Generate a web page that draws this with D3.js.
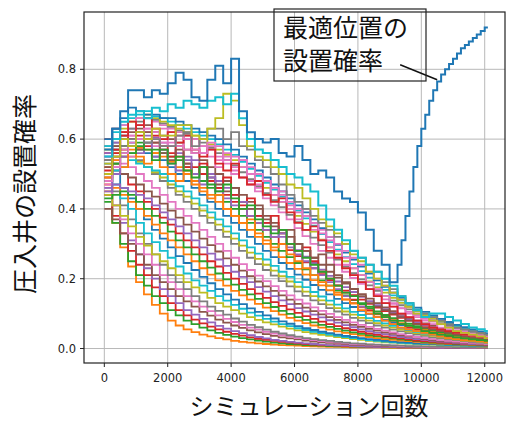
<!DOCTYPE html>
<html><head><meta charset="utf-8">
<script src="https://cdn.jsdelivr.net/npm/d3@7"></script>
<style>body{margin:0;background:#fff}svg{display:block}</style>
</head><body>
<svg id="c" width="509" height="423"></svg>
<script>
// ---------- data ----------
const stepX = [0,250,500,750,1000,1250,1500,1750,2000,2250,2500,2750,3000,3250,3500,3750,4000,4250,4500,4750,5000,5250,5500,5750,6000,6250,6500,6750,7000,7250,7500,7750,8000,8250,8500,8750,9000,9250,9500,9750,10000,10250,10500,10750,11000,11250,11500,11750,12000];
const optimalX = [0,250,500,750,1000,1250,1500,1750,2000,2250,2500,2750,3000,3250,3500,3750,4000,4250,4500,4750,5000,5250,5500,5750,6000,6250,6500,6750,7000,7250,7500,7750,8000,8250,8500,8750,9000,
  9125,9250,9375,9500,9625,9750,9875,10000,10125,10250,10375,10500,10625,10750,10875,11000,11125,11250,11375,11500,11625,11750,11875,12000];
const optimal = [0.57,0.63,0.68,0.74,0.74,0.72,0.74,0.73,0.76,0.79,0.77,0.72,0.71,0.77,0.81,0.76,0.83,0.68,0.62,0.60,0.59,0.60,0.56,0.55,0.58,0.54,0.50,0.51,0.49,0.45,0.43,0.42,0.39,0.34,0.28,0.24,0.19,
  0.19,0.24,0.31,0.38,0.45,0.52,0.58,0.63,0.67,0.71,0.74,0.765,0.785,0.80,0.815,0.83,0.845,0.86,0.87,0.88,0.89,0.90,0.91,0.92];
const cyanLine  = [0.55,0.60,0.65,0.67,0.68,0.66,0.69,0.68, 0.70,0.69,0.71,0.70,0.69,0.71,0.72,0.70, 0.73,0.66,0.60,0.57,0.56,0.54,0.52,0.50, 0.49,0.47,0.45,0.41,0.37,0.34,0.31,0.28, 0.26,0.24,0.22,0.20,0.18,0.15,0.13,0.11, 0.09,0.10,0.10,0.09,0.08,0.07,0.06,0.055, 0.05];
const oliveLine = [0.50,0.55,0.60,0.58,0.62,0.60,0.63,0.61, 0.61,0.64,0.64,0.61,0.60,0.63,0.66,0.73, 0.71,0.64,0.58,0.55,0.54,0.52,0.50,0.47, 0.46,0.43,0.40,0.37,0.35,0.33,0.30,0.27, 0.25,0.22,0.20,0.18,0.16,0.14,0.12,0.10, 0.09,0.08,0.07,0.06,0.05,0.045,0.04,0.035, 0.03];
const greyLine  = [0.50,0.55,0.58,0.60,0.62,0.59,0.60,0.58, 0.58,0.61,0.62,0.58,0.60,0.63,0.63,0.60, 0.62,0.58,0.57,0.54,0.52,0.50,0.47,0.44, 0.42,0.40,0.38,0.36,0.34,0.32,0.30,0.28, 0.26,0.24,0.22,0.19,0.17,0.15,0.13,0.11, 0.10,0.09,0.08,0.07,0.06,0.055,0.05,0.045, 0.04];
const pinkLine  = [0.48,0.52,0.56,0.59,0.60,0.63,0.62,0.59, 0.58,0.61,0.60,0.57,0.56,0.59,0.58,0.55, 0.55,0.54,0.52,0.50,0.48,0.46,0.44,0.42, 0.40,0.38,0.36,0.34,0.32,0.30,0.28,0.26, 0.24,0.22,0.20,0.18,0.16,0.14,0.12,0.10, 0.09,0.08,0.07,0.06,0.05,0.045,0.04,0.035, 0.03];
const jaggedLines = [
 [0.50,0.56,0.62,0.60,0.64,0.58,0.61,0.57, 0.55,0.58,0.52,0.50,0.53,0.48,0.46,0.49, 0.44,0.41,0.43,0.38,0.36,0.38,0.33,0.30, 0.28,0.29,0.25,0.22,0.20,0.18,0.16,0.14, 0.12,0.11,0.10,0.09,0.08,0.07,0.06,0.055, 0.05,0.045,0.04,0.035,0.03,0.028,0.026,0.024, 0.022],
 [0.47,0.52,0.57,0.55,0.60,0.62,0.58,0.60, 0.62,0.58,0.60,0.56,0.58,0.55,0.52,0.54, 0.50,0.52,0.48,0.46,0.44,0.46,0.42,0.40, 0.37,0.38,0.34,0.31,0.29,0.26,0.24,0.21, 0.19,0.17,0.15,0.13,0.12,0.10,0.09,0.08, 0.07,0.06,0.055,0.05,0.045,0.04,0.035,0.032, 0.03],
 [0.52,0.58,0.55,0.60,0.57,0.62,0.59,0.56, 0.54,0.57,0.53,0.50,0.52,0.49,0.47,0.45, 0.46,0.42,0.40,0.41,0.37,0.35,0.33,0.34, 0.30,0.28,0.26,0.27,0.24,0.21,0.19,0.17, 0.15,0.13,0.12,0.11,0.10,0.09,0.08,0.07, 0.06,0.055,0.05,0.045,0.04,0.035,0.03,0.028, 0.025],
 [0.46,0.50,0.55,0.58,0.56,0.59,0.55,0.57, 0.53,0.51,0.54,0.50,0.47,0.49,0.45,0.43, 0.41,0.42,0.38,0.36,0.34,0.32,0.33,0.29, 0.27,0.25,0.23,0.21,0.19,0.17,0.15,0.13, 0.12,0.10,0.09,0.08,0.07,0.06,0.055,0.05, 0.045,0.04,0.035,0.03,0.028,0.026,0.024,0.022, 0.02],
 [0.49,0.54,0.52,0.57,0.55,0.53,0.56,0.52, 0.50,0.48,0.51,0.47,0.45,0.43,0.44,0.40, 0.38,0.36,0.37,0.33,0.31,0.29,0.30,0.27, 0.25,0.23,0.21,0.19,0.18,0.16,0.14,0.13, 0.11,0.10,0.09,0.08,0.07,0.06,0.055,0.05, 0.045,0.04,0.035,0.03,0.027,0.024,0.022,0.02, 0.018],
 [0.55,0.60,0.64,0.61,0.66,0.63,0.60,0.63, 0.59,0.61,0.57,0.60,0.56,0.58,0.54,0.56, 0.52,0.54,0.50,0.47,0.48,0.44,0.45,0.41, 0.39,0.40,0.36,0.33,0.31,0.28,0.26,0.23, 0.21,0.19,0.17,0.15,0.13,0.115,0.10,0.09, 0.08,0.07,0.06,0.055,0.05,0.045,0.04,0.037, 0.034],
 [0.48,0.53,0.58,0.56,0.59,0.57,0.54,0.57, 0.53,0.55,0.51,0.49,0.52,0.47,0.45,0.47, 0.43,0.40,0.41,0.37,0.35,0.33,0.34,0.30, 0.28,0.26,0.24,0.22,0.20,0.18,0.16,0.15, 0.13,0.12,0.10,0.09,0.08,0.07,0.065,0.06, 0.05,0.045,0.04,0.036,0.032,0.029,0.026,0.024, 0.022],
 [0.51,0.57,0.61,0.65,0.62,0.66,0.63,0.60, 0.62,0.59,0.61,0.57,0.55,0.57,0.53,0.51, 0.53,0.49,0.47,0.48,0.44,0.42,0.43,0.39, 0.36,0.34,0.35,0.31,0.28,0.26,0.23,0.21, 0.19,0.17,0.15,0.13,0.12,0.10,0.09,0.08, 0.07,0.06,0.055,0.05,0.045,0.04,0.036,0.033, 0.03]
];
const fanLines = [
 [0.45,0.36,0.29,0.235,0.19,0.155,0.125,0.10, 0.08,0.066,0.055,0.047,0.04,0.035,0.03,0.026, 0.022,0.019,0.017,0.015,0.013,0.011,0.01,0.009, 0.008,0.007,0.006,0.0055,0.005,0.0045,0.004,0.0035, 0.003,0.003,0.003,0.0025,0.002,0.002,0.002,0.002, 0.002,0.002,0.002,0.0015,0.001,0.001,0.001,0.001, 0.001],
 [0.42,0.36,0.30,0.25,0.21,0.18,0.15,0.13, 0.11,0.095,0.08,0.07,0.06,0.052,0.045,0.039, 0.034,0.03,0.026,0.023,0.02,0.017,0.015,0.013, 0.012,0.01,0.009,0.008,0.007,0.0065,0.006,0.0055, 0.005,0.0045,0.004,0.0035,0.003,0.003,0.003,0.0025, 0.002,0.002,0.002,0.002,0.002,0.002,0.002,0.0015, 0.001],
 [0.44,0.38,0.33,0.28,0.24,0.21,0.175,0.15, 0.13,0.11,0.095,0.083,0.072,0.063,0.055,0.048, 0.042,0.037,0.032,0.028,0.025,0.022,0.019,0.017, 0.015,0.013,0.011,0.01,0.009,0.008,0.007,0.0065, 0.006,0.0055,0.005,0.0045,0.004,0.0035,0.003,0.003, 0.003,0.0025,0.002,0.002,0.002,0.002,0.002,0.002, 0.002],
 [0.48,0.41,0.36,0.31,0.27,0.23,0.20,0.17, 0.15,0.13,0.11,0.097,0.085,0.075,0.065,0.057, 0.05,0.044,0.038,0.033,0.029,0.025,0.022,0.019, 0.017,0.015,0.013,0.011,0.01,0.009,0.008,0.007, 0.006,0.0055,0.005,0.0045,0.004,0.0035,0.003,0.003, 0.003,0.0025,0.002,0.002,0.002,0.002,0.002,0.002, 0.002],
 [0.40,0.37,0.33,0.30,0.27,0.24,0.21,0.19, 0.17,0.15,0.135,0.12,0.105,0.094,0.083,0.074, 0.066,0.059,0.052,0.046,0.041,0.036,0.032,0.029, 0.026,0.023,0.02,0.018,0.016,0.014,0.013,0.011, 0.01,0.009,0.008,0.007,0.006,0.0055,0.005,0.0045, 0.004,0.004,0.004,0.0035,0.003,0.003,0.003,0.0025, 0.002],
 [0.46,0.41,0.37,0.33,0.30,0.27,0.24,0.21, 0.19,0.17,0.15,0.135,0.12,0.107,0.095,0.085, 0.076,0.068,0.06,0.054,0.048,0.043,0.038,0.034, 0.03,0.027,0.024,0.021,0.019,0.017,0.015,0.013, 0.012,0.011,0.01,0.009,0.008,0.007,0.006,0.0055, 0.005,0.0045,0.004,0.004,0.004,0.0035,0.003,0.003, 0.003],
 [0.50,0.45,0.41,0.37,0.33,0.30,0.27,0.24, 0.21,0.19,0.17,0.15,0.135,0.12,0.108,0.097, 0.086,0.077,0.068,0.061,0.054,0.048,0.043,0.038, 0.034,0.03,0.027,0.024,0.022,0.019,0.017,0.015, 0.014,0.012,0.011,0.01,0.009,0.008,0.007,0.0065, 0.006,0.0055,0.005,0.0045,0.004,0.0035,0.003,0.003, 0.003],
 [0.44,0.41,0.38,0.35,0.32,0.295,0.27,0.25, 0.23,0.21,0.19,0.175,0.16,0.145,0.13,0.12, 0.11,0.10,0.09,0.082,0.075,0.069,0.063,0.057, 0.052,0.047,0.043,0.039,0.036,0.033,0.03,0.027, 0.025,0.022,0.02,0.018,0.017,0.015,0.014,0.013, 0.012,0.011,0.01,0.009,0.008,0.0075,0.007,0.0065, 0.006],
 [0.50,0.47,0.43,0.40,0.36,0.33,0.305,0.28, 0.26,0.235,0.215,0.195,0.18,0.165,0.15,0.137, 0.125,0.114,0.103,0.094,0.085,0.077,0.07,0.064, 0.058,0.053,0.048,0.044,0.04,0.036,0.033,0.03, 0.027,0.024,0.022,0.02,0.018,0.016,0.015,0.014, 0.013,0.012,0.011,0.01,0.009,0.0085,0.008,0.0075, 0.007],
 [0.53,0.50,0.46,0.43,0.40,0.37,0.34,0.315, 0.29,0.265,0.245,0.225,0.205,0.187,0.17,0.155, 0.14,0.127,0.115,0.105,0.095,0.086,0.078,0.071, 0.064,0.058,0.053,0.048,0.044,0.04,0.036,0.033, 0.03,0.027,0.025,0.022,0.02,0.018,0.017,0.015, 0.014,0.013,0.012,0.011,0.01,0.009,0.008,0.0075, 0.007],
 [0.47,0.46,0.44,0.42,0.40,0.38,0.355,0.33, 0.31,0.29,0.27,0.25,0.23,0.212,0.195,0.18, 0.165,0.152,0.14,0.128,0.117,0.107,0.097,0.088, 0.08,0.073,0.066,0.06,0.054,0.049,0.045,0.041, 0.037,0.033,0.03,0.027,0.025,0.023,0.021,0.019, 0.017,0.015,0.014,0.013,0.012,0.011,0.01,0.009, 0.008],
 [0.43,0.44,0.45,0.44,0.42,0.40,0.38,0.36, 0.335,0.31,0.29,0.27,0.25,0.232,0.215,0.198, 0.183,0.168,0.155,0.142,0.13,0.119,0.108,0.099, 0.09,0.082,0.075,0.068,0.062,0.056,0.051,0.046, 0.042,0.038,0.035,0.032,0.029,0.026,0.024,0.021, 0.019,0.017,0.016,0.014,0.013,0.012,0.011,0.01, 0.009],
 [0.56,0.53,0.50,0.47,0.45,0.42,0.40,0.375, 0.355,0.33,0.31,0.29,0.27,0.25,0.235,0.217, 0.20,0.185,0.17,0.157,0.145,0.133,0.122,0.112, 0.102,0.093,0.085,0.077,0.07,0.064,0.058,0.053, 0.048,0.043,0.039,0.035,0.032,0.029,0.026,0.023, 0.021,0.019,0.017,0.015,0.014,0.013,0.012,0.011, 0.01],
 [0.45,0.47,0.46,0.45,0.44,0.43,0.41,0.39, 0.37,0.35,0.33,0.31,0.29,0.272,0.255,0.237, 0.22,0.205,0.19,0.176,0.163,0.15,0.138,0.127, 0.116,0.106,0.097,0.089,0.081,0.074,0.067,0.061, 0.055,0.05,0.045,0.041,0.037,0.033,0.03,0.027, 0.025,0.022,0.02,0.018,0.016,0.014,0.013,0.012, 0.011],
 [0.49,0.51,0.50,0.49,0.47,0.45,0.435,0.415, 0.395,0.375,0.355,0.335,0.315,0.296,0.278,0.258, 0.24,0.223,0.207,0.192,0.178,0.165,0.152,0.14, 0.128,0.117,0.107,0.098,0.09,0.082,0.075,0.068, 0.062,0.056,0.051,0.046,0.042,0.038,0.034,0.031, 0.028,0.025,0.022,0.02,0.018,0.016,0.015,0.013, 0.012],
 [0.52,0.55,0.53,0.52,0.50,0.48,0.46,0.44, 0.42,0.40,0.38,0.36,0.34,0.32,0.30,0.28, 0.26,0.242,0.225,0.209,0.193,0.179,0.165,0.152, 0.14,0.129,0.118,0.108,0.099,0.09,0.082,0.075, 0.068,0.062,0.056,0.051,0.046,0.041,0.037,0.033, 0.03,0.027,0.024,0.022,0.02,0.018,0.016,0.014, 0.013],
 [0.58,0.59,0.57,0.56,0.54,0.52,0.50,0.48, 0.46,0.44,0.42,0.40,0.38,0.36,0.34,0.32, 0.30,0.28,0.26,0.242,0.225,0.209,0.193,0.178, 0.164,0.151,0.138,0.127,0.116,0.106,0.097,0.088, 0.08,0.073,0.066,0.06,0.054,0.049,0.044,0.04, 0.036,0.032,0.029,0.026,0.024,0.021,0.019,0.017, 0.015],
 [0.53,0.56,0.55,0.55,0.535,0.52,0.505,0.49, 0.47,0.45,0.435,0.415,0.395,0.375,0.355,0.335, 0.315,0.295,0.275,0.257,0.24,0.223,0.207,0.192, 0.177,0.163,0.15,0.138,0.126,0.116,0.106,0.097, 0.088,0.08,0.073,0.066,0.06,0.054,0.049,0.044, 0.04,0.036,0.032,0.029,0.026,0.023,0.021,0.019, 0.017],
 [0.48,0.51,0.52,0.54,0.53,0.52,0.51,0.50, 0.48,0.465,0.45,0.43,0.41,0.39,0.37,0.35, 0.33,0.31,0.29,0.272,0.255,0.237,0.22,0.205, 0.19,0.176,0.162,0.149,0.137,0.126,0.115,0.105, 0.096,0.087,0.079,0.072,0.065,0.059,0.053,0.048, 0.043,0.039,0.035,0.031,0.028,0.025,0.023,0.02, 0.018],
 [0.55,0.57,0.58,0.59,0.57,0.56,0.55,0.54, 0.52,0.50,0.48,0.46,0.44,0.42,0.40,0.38, 0.36,0.34,0.32,0.30,0.28,0.262,0.245,0.228, 0.212,0.197,0.182,0.168,0.155,0.142,0.13,0.119, 0.108,0.099,0.09,0.082,0.074,0.067,0.06,0.054, 0.049,0.044,0.04,0.036,0.032,0.029,0.026,0.023, 0.021],
 [0.52,0.55,0.57,0.58,0.575,0.57,0.56,0.55, 0.535,0.52,0.50,0.48,0.46,0.44,0.42,0.40, 0.38,0.36,0.34,0.32,0.30,0.281,0.262,0.245, 0.228,0.212,0.196,0.181,0.167,0.154,0.141,0.129, 0.118,0.108,0.098,0.089,0.081,0.073,0.066,0.06, 0.054,0.049,0.044,0.039,0.035,0.031,0.028,0.025, 0.023],
 [0.50,0.53,0.56,0.58,0.58,0.59,0.57,0.56, 0.55,0.54,0.52,0.50,0.48,0.46,0.44,0.42, 0.40,0.38,0.36,0.34,0.32,0.30,0.28,0.262, 0.245,0.227,0.21,0.195,0.18,0.166,0.152,0.139, 0.127,0.116,0.106,0.096,0.087,0.079,0.071,0.064, 0.058,0.052,0.047,0.042,0.038,0.034,0.031,0.028, 0.025],
 [0.60,0.63,0.62,0.60,0.61,0.60,0.59,0.58, 0.56,0.55,0.53,0.52,0.50,0.48,0.46,0.44, 0.42,0.40,0.38,0.36,0.34,0.32,0.30,0.282, 0.265,0.247,0.23,0.213,0.196,0.181,0.166,0.153, 0.14,0.128,0.117,0.107,0.097,0.088,0.08,0.072, 0.065,0.059,0.053,0.048,0.043,0.039,0.035,0.031, 0.028],
 [0.56,0.59,0.61,0.63,0.62,0.61,0.605,0.59, 0.58,0.56,0.55,0.54,0.52,0.50,0.48,0.46, 0.44,0.42,0.40,0.38,0.36,0.34,0.32,0.30, 0.282,0.263,0.245,0.226,0.208,0.192,0.176,0.162, 0.148,0.136,0.124,0.113,0.102,0.093,0.084,0.076, 0.068,0.061,0.055,0.05,0.045,0.041,0.037,0.033, 0.03],
 [0.54,0.57,0.60,0.62,0.63,0.64,0.62,0.61, 0.60,0.59,0.57,0.56,0.54,0.52,0.50,0.48, 0.46,0.44,0.42,0.40,0.38,0.36,0.34,0.32, 0.30,0.28,0.26,0.24,0.22,0.203,0.186,0.171, 0.156,0.143,0.13,0.118,0.107,0.097,0.088,0.08, 0.072,0.065,0.058,0.052,0.047,0.042,0.038,0.034, 0.031],
 [0.50,0.54,0.58,0.61,0.64,0.66,0.65,0.64, 0.63,0.62,0.61,0.60,0.58,0.57,0.55,0.53, 0.51,0.49,0.47,0.45,0.43,0.41,0.39,0.37, 0.345,0.322,0.30,0.28,0.26,0.24,0.22,0.202, 0.185,0.17,0.155,0.141,0.128,0.116,0.105,0.095, 0.085,0.077,0.069,0.062,0.056,0.05,0.045,0.04, 0.036],
 [0.54,0.58,0.61,0.63,0.65,0.66,0.655,0.645, 0.635,0.625,0.615,0.60,0.59,0.575,0.56,0.54, 0.525,0.505,0.485,0.465,0.445,0.425,0.405,0.383, 0.362,0.34,0.318,0.296,0.275,0.255,0.235,0.216, 0.198,0.181,0.165,0.15,0.137,0.124,0.112,0.10, 0.09,0.081,0.073,0.066,0.06,0.054,0.048,0.043, 0.038],
 [0.57,0.60,0.63,0.65,0.66,0.67,0.66,0.65, 0.64,0.63,0.62,0.61,0.60,0.585,0.57,0.555, 0.54,0.52,0.50,0.48,0.46,0.44,0.42,0.40, 0.38,0.357,0.335,0.312,0.29,0.27,0.25,0.23, 0.21,0.192,0.175,0.16,0.145,0.131,0.118,0.107, 0.096,0.087,0.078,0.07,0.063,0.056,0.05,0.045, 0.04],
 [0.58,0.62,0.64,0.66,0.67,0.68,0.665,0.66, 0.65,0.64,0.63,0.62,0.61,0.60,0.585,0.57, 0.555,0.535,0.515,0.495,0.475,0.455,0.435,0.415, 0.395,0.373,0.352,0.328,0.305,0.283,0.262,0.242, 0.222,0.203,0.185,0.168,0.152,0.138,0.124,0.112, 0.10,0.09,0.081,0.073,0.065,0.058,0.052,0.047, 0.042],
 [0.60,0.63,0.66,0.69,0.68,0.67,0.67,0.66, 0.66,0.65,0.64,0.63,0.62,0.61,0.60,0.585, 0.57,0.55,0.53,0.51,0.49,0.47,0.45,0.43, 0.41,0.39,0.37,0.345,0.32,0.297,0.275,0.255, 0.235,0.215,0.195,0.177,0.16,0.145,0.13,0.117, 0.105,0.095,0.085,0.076,0.068,0.061,0.055,0.049, 0.044]
];
const xTicks = [0,2000,4000,6000,8000,10000,12000];
const yTicks = [0.0,0.2,0.4,0.6,0.8];
const xLabel = "シミュレーション回数";
const yLabel = "圧入井の設置確率";
const noteLines = ["最適位置の","設置確率"];
const noteTarget = [10500, 0.77];
const lastX = 12100;

// ---------- drawing ----------
const svg = d3.select("#c");
const M = {l:84, t:12, r:505, b:363};
const x = d3.scaleLinear().domain([-641, 12640]).range([M.l, M.r]);
const y = d3.scaleLinear().domain([-0.0415, 0.9642]).range([M.b, M.t]);
const pal = d3.schemeCategory10;
const jaggedColours = [pal[3], pal[6], pal[5], pal[4], pal[1], pal[6], pal[2], pal[3]];
const tickFont = "'DejaVu Sans', sans-serif";
const cjk = "'Noto Sans CJK JP', sans-serif";

const g = svg.append("g");
g.selectAll(".gx").data(xTicks).join("line")
 .attr("x1", d=>x(d)).attr("x2", d=>x(d)).attr("y1", M.t).attr("y2", M.b)
 .attr("stroke", "#b8b8b8").attr("stroke-width", 1);
g.selectAll(".gy").data(yTicks).join("line")
 .attr("y1", d=>y(d)).attr("y2", d=>y(d)).attr("x1", M.l).attr("x2", M.r)
 .attr("stroke", "#b8b8b8").attr("stroke-width", 1);

svg.append("clipPath").attr("id","clp").append("rect")
 .attr("x", M.l).attr("y", M.t).attr("width", M.r-M.l).attr("height", M.b-M.t);
const lines = svg.append("g").attr("clip-path","url(#clp)");
const line = d3.line().x(d=>x(d[0])).y(d=>y(d[1])).curve(d3.curveStepAfter);
function pts(xs, vs){ const p = vs.map((v,i)=>[xs[i], v]); p.push([lastX, vs[vs.length-1]]); return p; }
function draw(xs, vs, col, w){
  lines.append("path").attr("d", line(pts(xs, vs))).attr("fill","none")
   .attr("stroke", col).attr("stroke-width", w);
}
fanLines.forEach((vs,i)=> draw(stepX, vs, pal[(i+1)%10], 1.8));
jaggedLines.forEach((vs,i)=> draw(stepX, vs, jaggedColours[i], 1.8));
draw(stepX, pinkLine, pal[6], 1.8);
draw(stepX, greyLine, pal[7], 1.8);
draw(stepX, oliveLine, pal[8], 1.8);
draw(stepX, cyanLine, pal[9], 2);
draw(optimalX, optimal, pal[0], 2);

svg.append("rect").attr("x", M.l).attr("y", M.t).attr("width", M.r-M.l).attr("height", M.b-M.t)
 .attr("fill","none").attr("stroke","#222").attr("stroke-width",1.2);

const ax = svg.append("g");
ax.selectAll(".tx").data(xTicks).join("line")
 .attr("x1", d=>x(d)).attr("x2", d=>x(d)).attr("y1", M.b).attr("y2", M.b+4).attr("stroke","#222");
ax.selectAll(".lx").data(xTicks).join("text")
 .attr("x", d=>x(d)).attr("y", M.b+19).attr("text-anchor","middle")
 .attr("font-family", tickFont).attr("font-size", 11.5).attr("fill","#222").text(d=>d);
ax.selectAll(".ty").data(yTicks).join("line")
 .attr("y1", d=>y(d)).attr("y2", d=>y(d)).attr("x1", M.l-4).attr("x2", M.l).attr("stroke","#222");
ax.selectAll(".ly").data(yTicks).join("text")
 .attr("x", M.l-8).attr("y", d=>y(d)+4).attr("text-anchor","end")
 .attr("font-family", tickFont).attr("font-size", 11.5).attr("fill","#222").text(d=>d.toFixed(1));

svg.append("text").attr("x", 309).attr("y", 415).attr("text-anchor","middle")
 .attr("font-family", cjk).attr("font-size", 24).attr("fill","#111").text(xLabel);
svg.append("text").attr("transform","translate(34,194) rotate(-90)").attr("text-anchor","middle")
 .attr("font-family", cjk).attr("font-size", 25).attr("fill","#111").text(yLabel);

const tx = x(noteTarget[0]), ty = y(noteTarget[1]);
svg.append("line").attr("x1", tx-37).attr("y1", ty-15).attr("x2", tx).attr("y2", ty)
 .attr("stroke","#111").attr("stroke-width",1.5);
svg.append("rect").attr("x",274).attr("y",9).attr("width",152).attr("height",72)
 .attr("fill","none").attr("stroke","#222").attr("stroke-width",1.2);
svg.append("g").selectAll("text").data(noteLines).join("text")
 .attr("x", 283).attr("y", (d,i)=>37+i*33)
 .attr("font-family", cjk).attr("font-size", 25).attr("fill","#111").text(d=>d);
</script>
</body></html>
